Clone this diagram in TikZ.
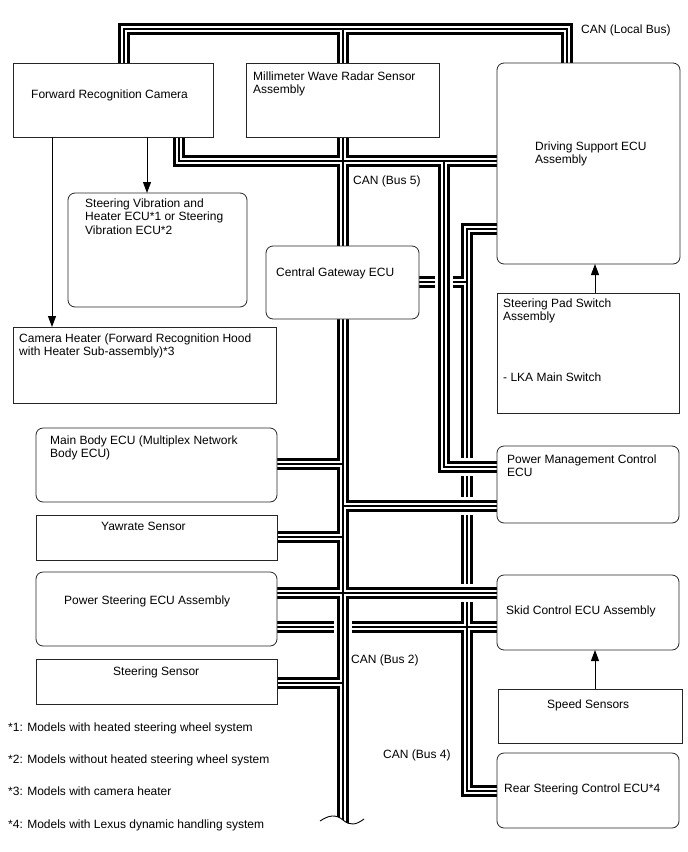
\documentclass[tikz,border=0pt]{standalone}
\usepackage{fontspec}
\setmainfont{Liberation Sans}
\usetikzlibrary{arrows.meta}
\newcommand\mltext[1]{\begin{tabular}[t]{@{}l@{}}#1\end{tabular}}
\begin{document}
\begin{tikzpicture}[x=1pt,y=-1pt,
  box/.style={draw=black!85, line width=0.8pt, fill=white, inner sep=0pt, outer sep=0pt, anchor=north west},
  rbox/.style={box, rounded corners=7pt},
  lbl/.style={anchor=base west, inner sep=0pt, font=\fontsize{12}{13.8}\selectfont},
  bus/.style={draw=black, line width=12.5pt, line join=miter, postaction={draw=white, line width=6pt}, postaction={draw=black, line width=1.1pt}},
  overbus/.style={bus, preaction={draw=white, line width=17.5pt}},
  arr/.style={draw=black, line width=0.9pt, -{Triangle[length=11pt,width=8pt]}}
]
\useasboundingbox (0,0) rectangle (688,852);

% CAN (Local Bus)
\path[bus] (124,66) -- (124,29) -- (567,29) -- (567,66)
           (343,29) -- (343,66);
% CAN (Bus 4)
\path[bus] (500,229) -- (467,229) -- (467,791) -- (500,791)
           (416,282) -- (467,282)
           (274,627) -- (500,627);
% CAN (Bus 5) and CAN (Bus 2)
\path[overbus] (179,134) -- (179,161) -- (500,161)
           (343,134) -- (343,828)
           (444,161) -- (444,467) -- (500,467)
           (274,464) -- (343,464)
           (343,506) -- (500,506)
           (274,537) -- (343,537)
           (274,593) -- (500,593)
           (274,683) -- (343,683);
% break mark
\fill[white] (320,821) .. controls (329,815) and (336,814) .. (343,820) .. controls (350,826) and (356,825) .. (364,819) -- (366,834) -- (318,834) -- cycle;
\draw[line width=0.9pt] (320,821) .. controls (329,815) and (336,814) .. (343,820) .. controls (350,826) and (356,825) .. (364,819);

% boxes
\node[box, minimum width=200pt, minimum height=74pt] (cam) at (13,63) {};
\node[box, minimum width=193pt, minimum height=74pt] (radar) at (246,63) {};
\node[rbox, minimum width=183pt, minimum height=201pt] (dsecu) at (497,63) {};
\node[rbox, minimum width=179pt, minimum height=114pt] (sv) at (68,193) {};
\node[rbox, minimum width=153pt, minimum height=73pt] (gw) at (266,246) {};
\node[box, minimum width=263pt, minimum height=76pt] (heater) at (13,327) {};
\node[box, minimum width=182pt, minimum height=120pt] (pad) at (497,293) {};
\node[rbox, minimum width=182pt, minimum height=77pt] (pm) at (497,446) {};
\node[rbox, minimum width=241pt, minimum height=74pt] (mb) at (36,428) {};
\node[box, minimum width=241pt, minimum height=45pt] (yaw) at (36,515) {};
\node[rbox, minimum width=241pt, minimum height=74pt] (ps) at (36,572) {};
\node[box, minimum width=241pt, minimum height=45pt] (ss) at (36,659) {};
\node[rbox, minimum width=182pt, minimum height=75pt] (skid) at (497,575) {};
\node[box, minimum width=184pt, minimum height=54pt] (speed) at (498,689) {};
\node[rbox, minimum width=182pt, minimum height=75pt] (rear) at (497,753) {};

% texts
\node[lbl] (tcam) at (31,98) {Forward Recognition Camera};
\node[lbl] (tradar) at (253,80) {\mltext{Millimeter Wave Radar Sensor\\Assembly}};
\node[lbl] (tds) at (535,150) {\mltext{Driving Support ECU\\Assembly}};
\node[lbl] (tsv) at (85,207) {\mltext{Steering Vibration and\\Heater ECU*1 or Steering\\Vibration ECU*2}};
\node[lbl] (tgw) at (276,276) {Central Gateway ECU};
\node[lbl] (theat) at (19,342) {\mltext{Camera Heater (Forward Recognition Hood\\with Heater Sub-assembly)*3}};
\node[lbl] (tpad) at (503,307) {\mltext{Steering Pad Switch\\Assembly}};
\node[lbl] (tlka) at (503,381) {- LKA Main Switch};
\node[lbl] (tpm) at (507,463) {\mltext{Power Management Control\\ECU}};
\node[lbl] (tmb) at (50,444) {\mltext{Main Body ECU (Multiplex Network\\Body ECU)}};
\node[lbl] (tyaw) at (101,530) {Yawrate Sensor};
\node[lbl] (tps) at (64,604) {Power Steering ECU Assembly};
\node[lbl] (tss) at (113,675) {Steering Sensor};
\node[lbl] (tskid) at (506,614) {Skid Control ECU Assembly};
\node[lbl] (tspeed) at (547,708) {Speed Sensors};
\node[lbl] (trear) at (504,792) {Rear Steering Control ECU*4};

\node[lbl] (canlocal) at (581,33) {CAN (Local Bus)};
\node[lbl] (can5) at (353,184) {CAN (Bus 5)};
\node[lbl] (can2) at (351,663) {CAN (Bus 2)};
\node[lbl] (can4) at (383,758) {CAN (Bus 4)};

\node[lbl] (fn1) at (8,731) {*1: Models with heated steering wheel system};
\node[lbl] (fn2) at (8,763) {*2: Models without heated steering wheel system};
\node[lbl] (fn3) at (8,795) {*3: Models with camera heater};
\node[lbl] (fn4) at (8,828) {*4: Models with Lexus dynamic handling system};

% arrows
\draw[arr] ([xshift=134pt]cam.south west) -- ([xshift=134pt]cam.south west |- sv.north);
\draw[arr] ([xshift=39pt]cam.south west) -- ([xshift=39pt]cam.south west |- heater.north);
\draw[arr] ([xshift=98pt]pad.north west) -- ([xshift=98pt]pad.north west |- dsecu.south);
\draw[arr] ([xshift=97pt]speed.north west) -- ([xshift=97pt]speed.north west |- skid.south);
\end{tikzpicture}
\end{document}
